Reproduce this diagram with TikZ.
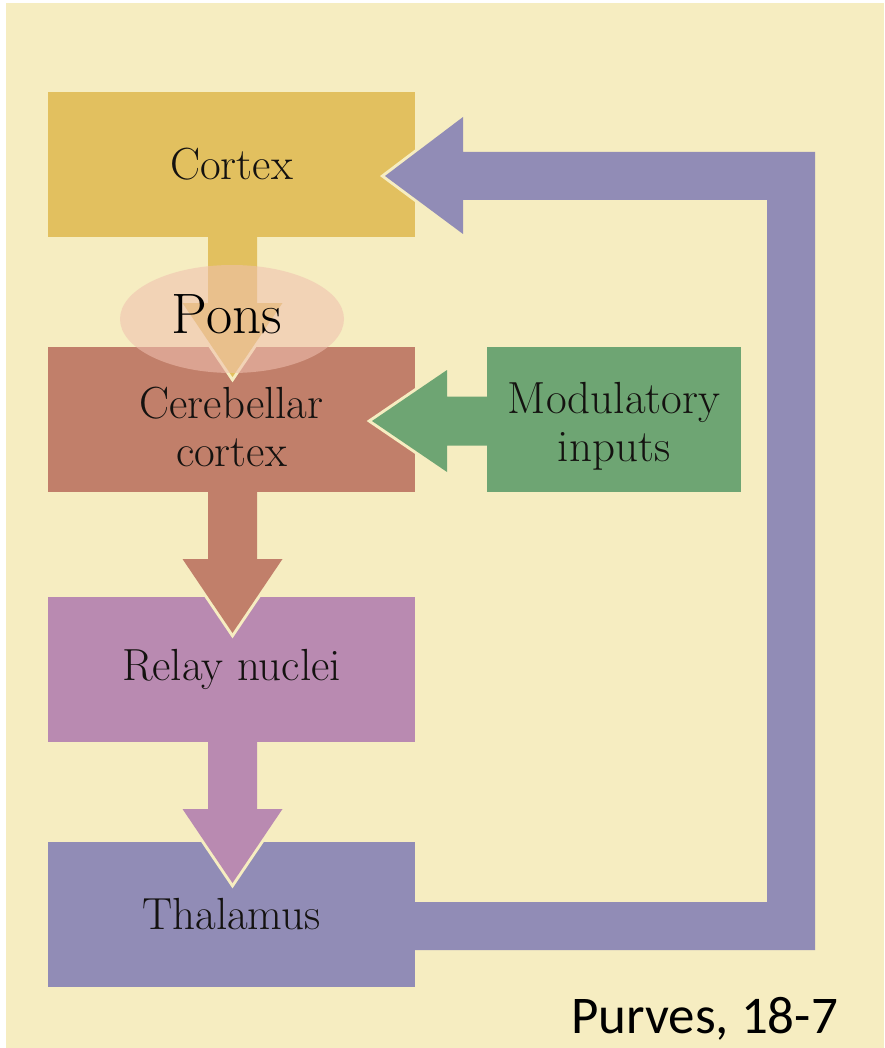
\documentclass[tikz,border=0pt]{standalone}
\usepackage{fontspec}
\newfontfamily\calib{Carlito}
\usetikzlibrary{calc,shapes.geometric}
\definecolor{bgc}{RGB}{246,237,193}
\definecolor{cortexc}{RGB}{226,192,95}
\definecolor{cerebc}{RGB}{193,127,106}
\definecolor{modc}{RGB}{110,165,115}
\definecolor{relayc}{RGB}{185,138,177}
\definecolor{thalc}{RGB}{145,140,182}
\definecolor{ponsc}{RGB}{239,192,175}
\definecolor{txtc}{RGB}{20,18,16}
\begin{document}
\begin{tikzpicture}[x=1pt,y=-1pt,
  box/.style={inner sep=0pt, minimum width=367pt, minimum height=145pt,
    font=\fontsize{45}{48}\selectfont, align=center, text=txtc},
  rim/.style={bgc, line width=6pt, line join=miter, miter limit=20}]
\useasboundingbox (0,0) rectangle (884,1048);
\fill[white] (0,0) rectangle (884,1048);
\fill[bgc] (6,3) rectangle (884,1048);
% boxes
\node[box, fill=cortexc] (cortex) at (231.5,164.5) {Cortex};
\node[box, fill=cerebc] (cereb) at (231.5,419.5) {\strut\\[-0.8em]Cerebellar\\cortex};
\node[box, fill=modc, minimum width=254pt] (mod) at (614,419.5) {\strut\\[-0.8em]Modulatory\\inputs};
\node[box, fill=relayc] (relay) at (231.5,669.5) {Relay nuclei};
\node[box, fill=thalc] (thal) at (231.5,914.5) {Thalamus};
% tips
\coordinate (t1) at (232.5,377);
\coordinate (t2) at (232.5,633);
\coordinate (t3) at (232.5,883);
\coordinate (t4) at (372,421);
\coordinate (t5) at (385,176);
% vertical arrows
\foreach \src/\tip/\col in {cortex/t1/cortexc, cereb/t2/cerebc, relay/t3/relayc}{
  \draw[rim] ($(\tip)+(-50,-74)$) -- (\tip) -- ($(\tip)+(50,-74)$);
  \fill[\col] (\src.south -| {$(\tip)+(-24.5,0)$}) -- ($(\tip)+(-24.5,-74)$) -- ($(\tip)+(-50,-74)$)
    -- (\tip) -- ($(\tip)+(50,-74)$) -- ($(\tip)+(24.5,-74)$)
    -- (\src.south -| {$(\tip)+(24.5,0)$}) -- cycle;
}
% modulatory arrow
\draw[rim] ($(t4)+(75,-51)$) -- (t4) -- ($(t4)+(75,51)$);
\fill[modc] (mod.west |- {$(t4)+(0,-24.5)$}) -- ($(t4)+(75,-24.5)$) -- ($(t4)+(75,-51)$)
  -- (t4) -- ($(t4)+(75,51)$) -- ($(t4)+(75,24.5)$) -- (mod.west |- {$(t4)+(0,24.5)$}) -- cycle;
% feedback arrow
\coordinate (fb) at ($(thal.east)+(0,11.5)$);
\draw[rim] ($(t5)+(78,-59)$) -- (t5) -- ($(t5)+(78,58)$);
\fill[thalc] ($(fb)+(0,-24)$) -- ($(fb)+(352,-24)$) |- ($(t5)+(78,24)$) -- ($(t5)+(78,58)$)
  -- (t5) -- ($(t5)+(78,-59)$) -- ($(t5)+(78,-24)$) -| ($(fb)+(400,24)$) -- ($(fb)+(0,24)$) -- cycle;
% pons
\node[ellipse, fill=ponsc, fill opacity=0.57, minimum width=224pt, minimum height=108pt, inner sep=0pt] (pons) at (232,319) {};
\node[font=\fontsize{57}{60}\selectfont, text=black, anchor=base] (ponslabel) at (227,333) {Pons};
% source
\node[font=\calib\fontsize{53}{60}\selectfont, text=black, anchor=base east, inner sep=0pt] (src) at (838,1033) {Purves, 18-7};
\end{tikzpicture}
\end{document}
